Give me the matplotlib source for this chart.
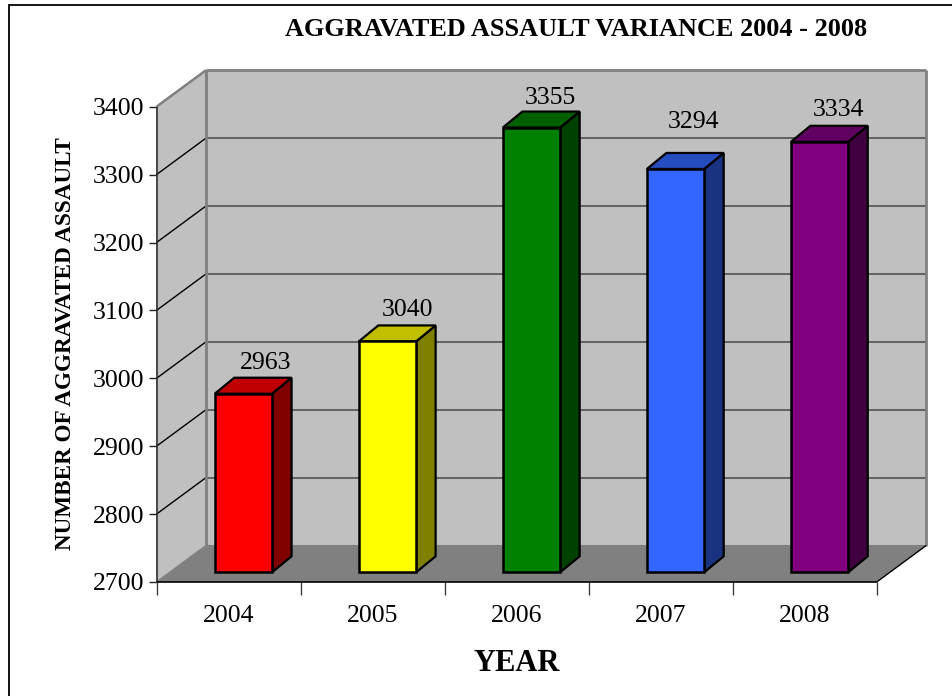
import matplotlib
matplotlib.use("Agg")
import matplotlib.pyplot as plt
from matplotlib.lines import Line2D
from matplotlib.patches import Polygon

years = ["2004", "2005", "2006", "2007", "2008"]
values = [2963, 3040, 3355, 3294, 3334]
front_colors = ["#FF0000", "#FFFF00", "#008000", "#3366FF", "#800080"]
top_colors = ["#C00000", "#C0C000", "#006000", "#264DC0", "#600060"]
side_colors = ["#800000", "#808000", "#004000", "#1A3380", "#400040"]
y_ticks = [2700, 2800, 2900, 3000, 3100, 3200, 3300, 3400]

W, H = 952, 696
plt.rcParams["font.family"] = ["Liberation Serif", "DejaVu Serif"]
fig = plt.figure(figsize=(W / 100, H / 100), dpi=100, facecolor="white")

L, R, T, B = 156.5, 876.7, 106.7, 582.0
ax = fig.add_axes([L / W, 1 - B / H, (R - L) / W, (B - T) / H])
ax.set_xlim(-0.5, 4.5)
ax.set_ylim(2700, 3400)
ax.patch.set_visible(False)
for s in ax.spines.values():
    s.set_visible(False)

cat_px = (R - L) / 5
val_px = (B - T) / 700
DX, DY = 49.5 / cat_px, 36.5 / val_px          # depth of the floor and walls
x0, x1, y0, y1 = -0.5, 4.5, 2700, 3400


def poly(pts, fc, ec="none", lw=0, z=1):
    ax.add_patch(Polygon(pts, closed=True, facecolor=fc, edgecolor=ec, linewidth=lw,
                         zorder=z, clip_on=False, joinstyle="miter"))


def line(xs, ys, c, lw, z=2):
    ax.plot(xs, ys, color=c, lw=lw, zorder=z, clip_on=False, solid_capstyle="butt")


# walls and floor
poly([(x0 + DX, y0 + DY), (x1 + DX, y0 + DY), (x1 + DX, y1 + DY), (x0 + DX, y1 + DY)], "#C0C0C0")
poly([(x0, y0), (x0 + DX, y0 + DY), (x0 + DX, y1 + DY), (x0, y1)], "#C0C0C0")
poly([(x0, y0), (x1, y0), (x1 + DX, y0 + DY), (x0 + DX, y0 + DY)], "#808080")

for v in y_ticks[1:-1]:
    line([x0, x0 + DX], [v, v + DY], "#000000", 1.0)
    line([x0 + DX, x1 + DX], [v + DY, v + DY], "#505050", 1.2)
line([x0, x0 + DX], [y1, y1 + DY], "#808080", 1.8)
line([x0 + DX, x1 + DX], [y1 + DY, y1 + DY], "#808080", 2.0)
line([x0 + DX, x0 + DX], [y0 + DY, y1 + DY], "#808080", 2.0)
line([x1 + DX, x1 + DX], [y0 + DY, y1 + DY], "#808080", 2.0)
line([x0 + DX, x1 + DX], [y0 + DY, y0 + DY], "#808080", 1.5)
line([x0, x0 + DX], [y0, y0 + DY], "#808080", 1.0)
line([x1, x1 + DX], [y0, y0 + DY], "#000000", 1.0)

# axes lines and ticks
line([x0, x0], [y0, y1], "#303030", 1.2, z=3)
line([x0, x1], [y0, y0], "#000000", 1.2, z=3)

ax.set_yticks(y_ticks)
ax.set_xticks([i - 0.5 for i in range(6)])
ax.set_xticklabels([])
ax.tick_params(axis="y", length=6, width=1, color="#202020", pad=3, labelsize=18.5)
ax.tick_params(axis="x", length=9, width=1, color="#404040")

# bars
BW, BX, BY = 57.3 / cat_px, 14.9 / cat_px, 9.7 / val_px
BDX, BDY = 19.5 / cat_px, 16 / val_px
label_dx = [12, 10, 9, 8, 9]
label_dy = [4, 4, 3, 20, 5]
for i, v in enumerate(values):
    a, b = i + BX - BW / 2, i + BX + BW / 2
    c, d = y0 + BY, v + BY
    poly([(b, c), (b + BDX, c + BDY), (b + BDX, d + BDY), (b, d)], side_colors[i], "black", 1.6, 5)
    poly([(a, d), (b, d), (b + BDX, d + BDY), (a + BDX, d + BDY)], top_colors[i], "black", 1.6, 5)
    poly([(a, c), (b, c), (b, d), (a, d)], front_colors[i], "black", 1.8, 6)
    ax.annotate(str(v), (i + BX + BDX / 2, d + BDY), xytext=(label_dx[i], label_dy[i]),
                textcoords="offset pixels", ha="center", va="bottom", fontsize=18.5, zorder=7)

for i, y in enumerate(years):
    ax.text(i, 2700 - 23 / val_px, y, ha="center", va="top", fontsize=18.5, zorder=7)

ax.set_xlabel("YEAR", fontsize=22, fontweight="bold", labelpad=36)
fig.text(576 / W, 1 - 30 / H, "AGGRAVATED ASSAULT VARIANCE 2004 - 2008", ha="center", va="center",
         fontsize=18.9, fontweight="bold")
fig.text(65.5 / W, 1 - 344 / H, "NUMBER OF AGGRAVATED ASSAULT", rotation=90, ha="center", va="center",
         fontsize=16.7, fontweight="bold")

# outer frame: only the left and top edges fall inside the picture
fig.add_artist(Line2D([8.7 / W, 8.7 / W, 1], [0, 1 - 5 / H, 1 - 5 / H], transform=fig.transFigure,
                      color="black", linewidth=1.3, solid_joinstyle="miter"))

fig.savefig("out.png", dpi=100)
